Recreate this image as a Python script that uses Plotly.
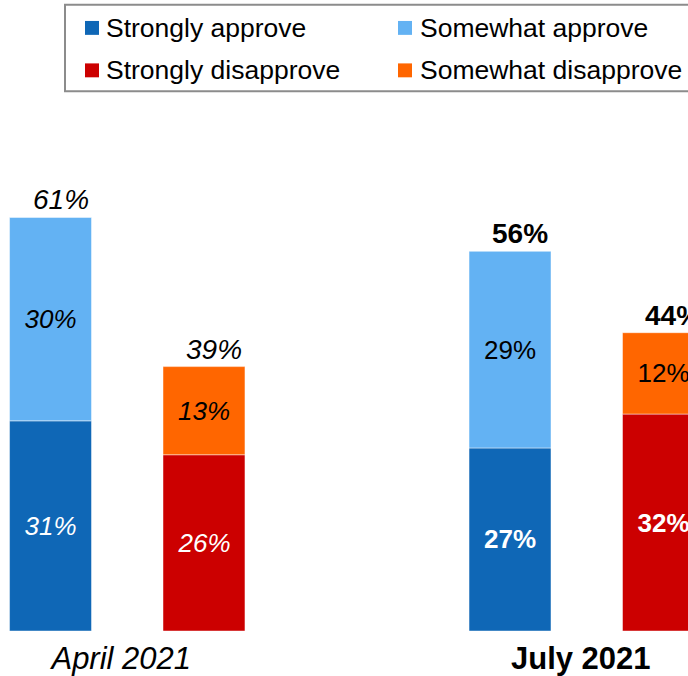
import plotly.graph_objects as go

# ---- data ----
periods = ["April 2021", "July 2021"]
series_names = ["Strongly approve", "Somewhat approve", "Strongly disapprove", "Somewhat disapprove"]
strongly_approve = [31, 27]
somewhat_approve = [30, 29]
strongly_disapprove = [26, 32]
somewhat_disapprove = [13, 12]
total_approve = [61, 56]
total_disapprove = [39, 44]

# ---- styles ----
C_SA = "#0F67B6"
C_WA = "#63B2F3"
C_SD = "#CC0000"
C_WD = "#FF6600"
FONT = "Liberation Sans, Arial, sans-serif"

W, H = 688, 676
M_T, M_B = 130, 42
PLOT_H = H - M_T - M_B
PX_PER_PCT = 6.82
BARGAP = 0.332
BARGROUPGAP = 0.466
GROUP_PX = 459.5          # pixels between the two period centres
FIRST_CENTER_PX = 127.25  # pixel x of first period centre


def fmt(v, period_idx, strong):
    s = f"{v}%"
    if period_idx == 0:
        return f"<i>{s}</i>"
    return f"<b>{s}</b>" if strong else s


def fmt_total(v, period_idx):
    s = f"{v}%"
    return f"<i>{s}</i>" if period_idx == 0 else f"<b>{s}</b>"


def bar(name, vals, color, group, base, strong):
    return go.Bar(
        name=name,
        x=periods,
        y=vals,
        base=base,
        offsetgroup=group,
        marker=dict(color=color, line=dict(color="rgba(255,255,255,0.45)", width=1)),
        text=[fmt(v, i, strong) for i, v in enumerate(vals)],
        textposition="inside",
        insidetextanchor="middle",
        textangle=0,
        constraintext="none",
        textfont=dict(family=FONT, size=26, color="white" if strong else "black"),
        showlegend=False,
        hoverinfo="skip",
    )


fig = go.Figure()
fig.add_trace(bar(series_names[0], strongly_approve, C_SA, "approve", None, True))
fig.add_trace(bar(series_names[1], somewhat_approve, C_WA, "approve", strongly_approve, False))
fig.add_trace(bar(series_names[2], strongly_disapprove, C_SD, "disapprove", None, True))
fig.add_trace(bar(series_names[3], somewhat_disapprove, C_WD, "disapprove", strongly_disapprove, False))

# totals above the stacks
off = (1 - BARGAP) / 4
annotations = []
for i in range(len(periods)):
    for tot, sign in ((total_approve[i], -1), (total_disapprove[i], 1)):
        annotations.append(dict(
            x=i + sign * off, y=tot, xref="x", yref="y",
            text=fmt_total(tot, i), showarrow=False,
            xanchor="center", yanchor="bottom", xshift=10, yshift=0,
            font=dict(family=FONT, size=28, color="black"),
        ))

# manual legend (box clipped by the page edge like the reference)
def px_x(px):
    return px / W


def px_y(py):
    return (H - M_B - py) / PLOT_H


shapes = [dict(
    type="rect", xref="paper", yref="paper",
    x0=px_x(65), x1=px_x(820), y0=px_y(91), y1=px_y(4),
    line=dict(color="#8C8C8C", width=2), fillcolor="rgba(0,0,0,0)", layer="above",
)]
legend_colors = [C_SA, C_WA, C_SD, C_WD]
col_marker_px = [85, 398]
col_text_px = [105, 419]
row_center_px = [27.3, 70]
for k, (nm, col) in enumerate(zip(series_names, legend_colors)):
    c, r = k % 2, k // 2
    shapes.append(dict(
        type="rect", xref="paper", yref="paper",
        x0=px_x(col_marker_px[c]), x1=px_x(col_marker_px[c] + 14),
        y0=px_y(row_center_px[r] + 7), y1=px_y(row_center_px[r] - 7),
        line=dict(width=0), fillcolor=col,
    ))
    annotations.append(dict(
        x=px_x(col_text_px[c]), y=px_y(row_center_px[r]), xref="paper", yref="paper",
        text=nm, showarrow=False, xanchor="left", yanchor="middle",
        font=dict(family=FONT, size=26.5, color="black"), borderpad=0,
    ))

x_range = [-FIRST_CENTER_PX / GROUP_PX, (W - FIRST_CENTER_PX) / GROUP_PX]

fig.update_layout(
    width=W, height=H,
    margin=dict(l=0, r=0, t=M_T, b=M_B, pad=0),
    paper_bgcolor="white", plot_bgcolor="white",
    barmode="group", bargap=BARGAP, bargroupgap=BARGROUPGAP,
    font=dict(family=FONT, color="black"),
    xaxis=dict(
        type="category", range=x_range, showgrid=False, zeroline=False, showline=False,
        ticks="", tickvals=periods,
        ticktext=[f"<i>{periods[0]}</i>", f"<b>{periods[1]}</b>"],
        tickfont=dict(family=FONT, size=31, color="black"),
        ticklabelshift=-6, ticklabelstandoff=6, fixedrange=True,
    ),
    yaxis=dict(range=[0, PLOT_H / PX_PER_PCT], visible=False, fixedrange=True),
    shapes=shapes,
    annotations=annotations,
    showlegend=False,
)

fig.write_html(
    "out.html",
    config={"displayModeBar": False},
    post_script="document.body.style.margin='0';document.body.style.overflow='hidden';",
)
